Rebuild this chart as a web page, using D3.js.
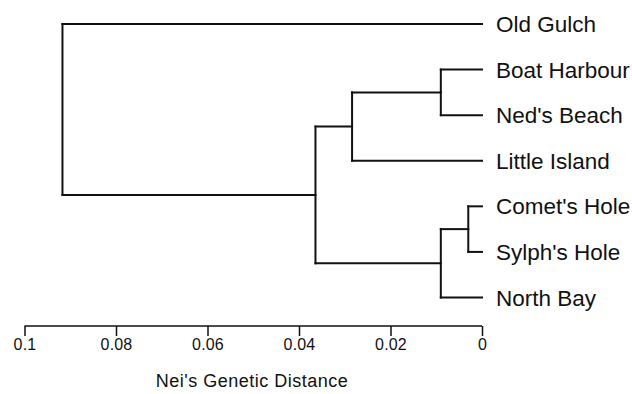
<!DOCTYPE html>
<html><head><meta charset="utf-8">
<script src="https://cdn.jsdelivr.net/npm/d3@7"></script>
<style>body{margin:0;background:#fff}svg{display:block}</style>
</head><body>
<script>
// Leaf order (top to bottom)
const leaves = ["Old Gulch","Boat Harbour","Ned's Beach","Little Island","Comet's Hole","Sylph's Hole","North Bay"];
// Internal node names, their merge heights (Nei's genetic distance) and children
const nodeNames   = ["root","n1","n2","n3","n4","n5"];
const nodeHeights = [0.0917, 0.0364, 0.0284, 0.0090, 0.0090, 0.0030];
const nodeChildren = [
  ["Old Gulch","n1"],
  ["n2","n4"],
  ["n3","Little Island"],
  ["Boat Harbour","Ned's Beach"],
  ["n5","North Bay"],
  ["Comet's Hole","Sylph's Hole"]
];
const tickValues = [0.1, 0.08, 0.06, 0.04, 0.02, 0];
const tickLabels = ["0.1","0.08","0.06","0.04","0.02","0"];
const axisTitle = "Nei's Genetic Distance";

const W = 632, H = 394;
const svg = d3.select("body").append("svg").attr("width", W).attr("height", H);

const x = d3.scaleLinear().domain([0.1, 0]).range([24.5, 482]);
const y = d3.scalePoint().domain(leaves).range([24, 297.5]);

// build tree
const nodes = {};
leaves.forEach(l => nodes[l] = {name: l, h: 0, leaf: true});
nodeNames.forEach((n, i) => nodes[n] = {name: n, h: nodeHeights[i], kids: nodeChildren[i]});
function posY(n) {
  const nd = nodes[n];
  if (nd.leaf) return nd.y = y(n);
  const ys = nd.kids.map(posY);
  return nd.y = (d3.min(ys) + d3.max(ys)) / 2;
}
posY("root");

const g = svg.append("g").attr("stroke", "#111").attr("stroke-width", 2).attr("fill", "none").attr("stroke-linecap", "square");
nodeNames.forEach(n => {
  const nd = nodes[n];
  const ys = nd.kids.map(k => nodes[k].y);
  g.append("line").attr("x1", x(nd.h)).attr("x2", x(nd.h))
    .attr("y1", d3.min(ys)).attr("y2", d3.max(ys));
  nd.kids.forEach(k => {
    g.append("line").attr("x1", x(nd.h)).attr("x2", x(nodes[k].h))
      .attr("y1", nodes[k].y).attr("y2", nodes[k].y);
  });
});

// leaf labels
svg.append("g").selectAll("text").data(leaves).join("text")
  .attr("x", x(0) + 14).attr("y", d => y(d)).attr("dy", "0.36em")
  .attr("font-family", "Liberation Sans, Arial, sans-serif")
  .style("font-size", "22.5px").attr("fill", "#111").text(d => d);

// axis
const axis = d3.axisBottom(x).tickValues(tickValues).tickFormat((d, i) => tickLabels[i]).tickSize(10).tickPadding(3);
const ag = svg.append("g").attr("transform", "translate(0,326)").call(axis);
ag.attr("font-size", null).attr("font-family", null);
ag.select(".domain").attr("stroke", "#111").attr("stroke-width", 1.5).attr("d", `M${x(0.1)},0H${x(0)}`);
ag.selectAll(".tick line").attr("stroke", "#111").attr("stroke-width", 1.5);
ag.selectAll(".tick text").attr("font-family", "Liberation Sans, Arial, sans-serif")
  .style("font-size", "16px").attr("fill", "#111").attr("letter-spacing", 0.2);

svg.append("text").attr("x", 252).attr("y", 387).attr("text-anchor", "middle")
  .attr("font-family", "Liberation Sans, Arial, sans-serif").style("font-size", "18px")
  .attr("letter-spacing", 0.5).attr("fill", "#111").text(axisTitle);
</script>
</body></html>
